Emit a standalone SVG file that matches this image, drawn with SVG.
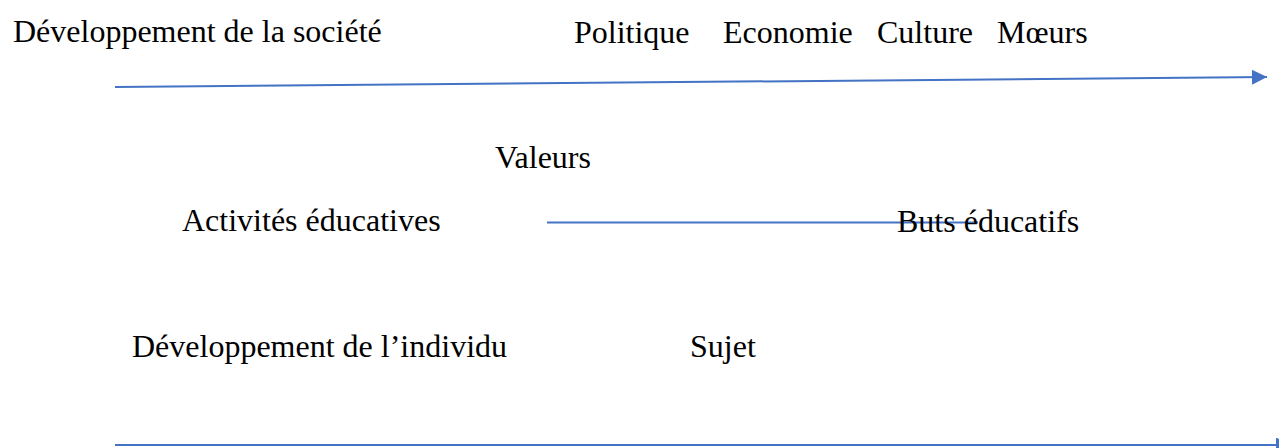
<svg xmlns="http://www.w3.org/2000/svg" width="1279" height="448" viewBox="0 0 1279 448">
<style>
text{font-family:"Liberation Serif","Times New Roman",serif;font-size:32px;fill:#000}
.ln{stroke:#4472c4;stroke-width:2;fill:none}
</style>
<defs>
<marker id="ah" markerUnits="userSpaceOnUse" markerWidth="16" markerHeight="16" refX="15" refY="7.5" orient="auto">
<path d="M0,0 L15,7.5 L0,15 Z" fill="#4472c4"/>
</marker>
</defs>
<rect width="1279" height="448" fill="#fff"/>
<g id="connectors">
<line class="ln" x1="115" y1="87" x2="1267" y2="77" marker-end="url(#ah)"/>
<line class="ln" x1="547" y1="222.5" x2="978" y2="222.5"/>
<line class="ln" x1="115" y1="445" x2="1291" y2="445" marker-end="url(#ah)"/>
</g>
<g id="dev-societe"><text x="13" y="42">Développement de la société</text></g>
<g id="politique"><text x="574" y="43">Politique</text></g>
<g id="economie"><text x="723" y="43">Economie</text></g>
<g id="culture"><text x="877" y="43">Culture</text></g>
<g id="moeurs"><text x="997" y="43">Mœurs</text></g>
<g id="valeurs"><text x="495" y="168">Valeurs</text></g>
<g id="activites"><text x="182" y="231">Activités éducatives</text></g>
<g id="buts"><text x="897" y="232">Buts éducatifs</text></g>
<g id="dev-individu"><text x="132" y="357">Développement de l’individu</text></g>
<g id="sujet"><text x="690" y="357">Sujet</text></g>
</svg>
